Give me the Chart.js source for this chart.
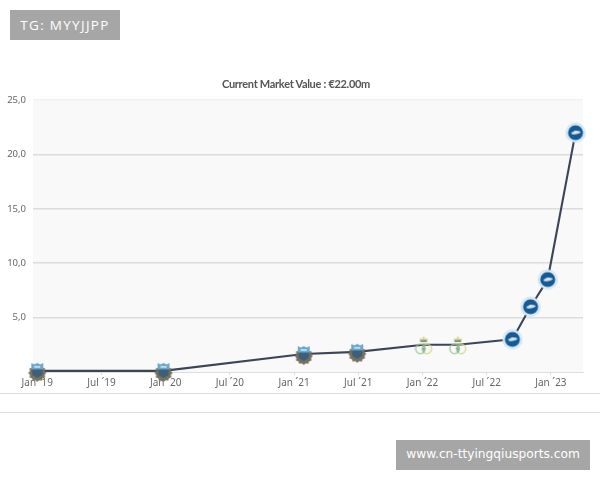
<!DOCTYPE html>
<html>
<head>
<meta charset="utf-8">
<script src="https://cdn.jsdelivr.net/npm/chart.js@4"></script>
<style>
  html, body { margin: 0; padding: 0; background: #fff; overflow: hidden; }
  #wrap { position: relative; width: 600px; height: 480px; }
  #chart { position: absolute; left: 0; top: 0; filter: blur(0.35px); }
  .rule { position: absolute; left: 0; width: 600px; height: 1px; background: #dedede; }
  .tag { position: absolute; background: #a6a6a6; color: #fff; height: 30px; line-height: 30px; text-align: center; white-space: nowrap; }
  #title { position: absolute; left: 196px; top: 76px; width: 200px; text-align: center; color: #555; font: bold 11px/16px Lato; letter-spacing: -0.3px; white-space: nowrap; }
</style>
</head>
<body>
<div id="wrap">
  <canvas id="chart" width="600" height="393"></canvas>
  <div id="title"></div>
  <div class="rule" style="top:393px"></div>
  <div class="rule" style="top:412px"></div>
  <div class="tag" style="left:10px;top:10px;width:110px;font:13.5px/30px 'Open Sans';letter-spacing:1.3px">TG: MYYJJPP</div>
  <div class="tag" style="left:396px;top:440px;width:194px;font:12.2px/29px 'DejaVu Sans'">www.cn-ttyingqiusports.com</div>
</div>
<script>
// Datos (x = meses desde enero de 2019)
var valueMonths = [0, 11.8, 24.9, 29.9, 36.1, 39.3, 44.4, 46.1, 47.7, 50.3];
var marketValues = [0.1, 0.1, 1.65, 1.85, 2.5, 2.5, 3.0, 6.0, 8.5, 22.0];
var clubMarkers = ['crest', 'crest', 'crest', 'crest', 'green', 'green', 'blue', 'blue', 'blue', 'blue'];
var xTickLabels = ['Jan ´19', 'Jul ´19', 'Jan ´20', 'Jul ´20', 'Jan ´21', 'Jul ´21', 'Jan ´22', 'Jul ´22', 'Jan ´23'];
var yTickValues = [0, 5, 10, 15, 20, 25];
var chartTitle = 'Current Market Value : €22.00m';

document.getElementById('title').textContent = chartTitle;

// Escudos de los clubes, dibujados en un canvas aparte
function makeMarker(type) {
    var c = document.createElement('canvas');
    c.width = 30;
    c.height = 30;
    var g = c.getContext('2d');
    g.translate(15, 15);
    if (type === 'blue') {
        g.fillStyle = '#c4e0f2';
        g.beginPath(); g.arc(0, 0, 10, 0, Math.PI * 2); g.fill();
        g.fillStyle = '#f2f8fc';
        g.beginPath(); g.arc(0, 0, 8.7, 0, Math.PI * 2); g.fill();
        g.fillStyle = '#155a94';
        g.beginPath(); g.arc(0, 0, 7.6, 0, Math.PI * 2); g.fill();
        g.fillStyle = '#d5e3ee';
        g.beginPath(); g.ellipse(0.3, 0, 4.6, 1.5, -0.15, 0, Math.PI * 2); g.fill();
        g.fillRect(-1.5, -2, 3.5, 1.5);
    } else if (type === 'green') {
        g.lineWidth = 1.2;
        g.strokeStyle = '#9cc59a';
        g.beginPath(); g.arc(-3.2, 4, 4.8, 0, Math.PI * 2); g.stroke();
        g.strokeStyle = '#ccd88c';
        g.beginPath(); g.arc(3.2, 4, 4.8, 0, Math.PI * 2); g.stroke();
        g.strokeStyle = '#6fa583';
        g.beginPath(); g.moveTo(0, 0); g.lineTo(0, 8); g.moveTo(-2, 4); g.lineTo(2, 4); g.stroke();
        g.fillStyle = '#cdd69b';
        g.beginPath();
        g.moveTo(-4, -3); g.lineTo(-4, -6.5); g.lineTo(-1.5, -6); g.lineTo(0, -9);
        g.lineTo(1.5, -6); g.lineTo(4, -6.5); g.lineTo(4, -3); g.closePath(); g.fill();
        g.fillStyle = '#6d7a5c';
        g.fillRect(-3, -4.5, 6, 1.6);
    } else {
        // Rueda dentada gris con la parte superior azul
        g.fillStyle = '#77715f';
        g.beginPath();
        for (var k = 0; k < 24; k++) {
            var r = k % 2 ? 7.6 : 9;
            var t = k * Math.PI / 12;
            g.lineTo(Math.cos(t) * r, 2 + Math.sin(t) * r);
        }
        g.closePath();
        g.fill();
        g.fillStyle = '#3e5f78';
        g.beginPath(); g.moveTo(-5.5, -4); g.lineTo(5.5, -4); g.lineTo(5, 4); g.lineTo(0, 7); g.lineTo(-5, 4); g.closePath(); g.fill();
        g.fillStyle = '#6aa8d0';
        g.beginPath();
        g.moveTo(-6, -8); g.lineTo(-3, -6.6); g.lineTo(0, -8); g.lineTo(3, -6.6); g.lineTo(6, -8);
        g.lineTo(6, -1.5); g.lineTo(-6, -1.5); g.closePath(); g.fill();
        g.fillStyle = '#d6e8f3';
        g.fillRect(-3, -4.8, 6, 1.5);
    }
    return c;
}

var points = [];
for (var i = 0; i < valueMonths.length; i++) {
    points.push({ x: valueMonths[i], y: marketValues[i] });
}

// Fondo gris claro del area de la grafica
var plotBackground = {
    id: 'plotBackground',
    beforeDraw: function(chart) {
        var a = chart.chartArea;
        chart.ctx.fillStyle = '#f9f9f9';
        chart.ctx.fillRect(a.left, a.top, a.width, a.height);
    }
};

var ctx = document.getElementById('chart').getContext('2d');
var marketChart = new Chart(ctx, {
    type: 'line',
    data: {
        datasets: [{
            data: points,
            borderColor: '#3a4658',
            borderWidth: 2.1,
            tension: 0,
            clip: false,
            pointStyle: clubMarkers.map(makeMarker),
            pointRadius: 11
        }]
    },
    options: {
        responsive: false,
        animation: false,
        layout: { padding: { top: 100, right: 17, left: 0, bottom: 0 } },
        plugins: {
            legend: { display: false },
            tooltip: { enabled: false }
        },
        scales: {
            x: {
                type: 'linear',
                min: -0.4,
                max: 51,
                afterFit: function(scale) { scale.height = 21; },
                grid: { drawOnChartArea: false, color: '#ddd', tickLength: 3 },
                border: { color: '#ddd', width: 1 },
                ticks: {
                    stepSize: 6,
                    includeBounds: false,
                    autoSkip: false,
                    maxRotation: 0,
                    padding: 2,
                    color: '#666',
                    font: { family: 'Noto Sans', size: 10 },
                    callback: function(value) { return xTickLabels[value / 6]; }
                }
            },
            y: {
                min: 0,
                max: 25,
                afterFit: function(scale) { scale.width = 33; },
                afterBuildTicks: function(scale) {
                    scale.ticks = yTickValues.map(function(v) { return { value: v }; });
                },
                grid: {
                    drawTicks: false,
                    lineWidth: 1.6,
                    color: function(c) {
                        if (c.tick.value === 25) return '#f1f1f1';
                        if (c.tick.value === 0) return 'rgba(0,0,0,0)';
                        return '#dcdcdc';
                    }
                },
                border: { display: false },
                ticks: {
                    padding: 7,
                    color: '#666',
                    font: { family: 'Noto Sans', size: 9.5 },
                    callback: function(value) {
                        return value === 0 ? '' : value.toFixed(1).replace('.', ',');
                    }
                }
            }
        }
    },
    plugins: [plotBackground]
});
</script>
</body>
</html>
